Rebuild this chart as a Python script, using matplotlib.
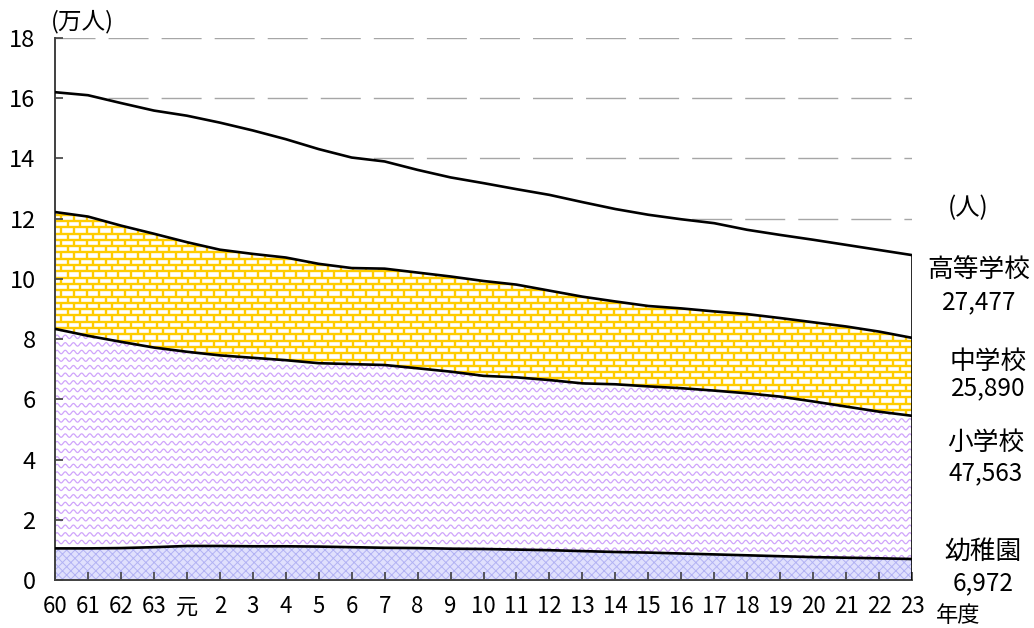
import numpy as np
import matplotlib
matplotlib.use('Agg')
import matplotlib.pyplot as plt
from matplotlib.patches import Polygon
from matplotlib.collections import LineCollection

plt.rcParams['font.family'] = ['Noto Sans CJK JP', 'DejaVu Sans']
plt.rcParams['hatch.linewidth'] = 0.7

# ---------------- data (万人) ----------------
years = ['60', '61', '62', '63', '元'] + [str(i) for i in range(2, 24)]
kindergarten = [1.05, 1.05, 1.06, 1.09, 1.13, 1.13, 1.12, 1.12, 1.11, 1.09, 1.07, 1.06, 1.04, 1.03,
                1.01, 0.99, 0.96, 0.93, 0.91, 0.88, 0.85, 0.82, 0.79, 0.76, 0.74, 0.72, 0.6972]
elementary = [7.29, 7.06, 6.85, 6.63, 6.45, 6.33, 6.26, 6.18, 6.09, 6.08, 6.07, 5.97, 5.88, 5.75,
              5.72, 5.65, 5.57, 5.57, 5.52, 5.49, 5.44, 5.38, 5.30, 5.17, 5.02, 4.87, 4.7563]
junior_high = [3.88, 3.96, 3.86, 3.78, 3.64, 3.51, 3.45, 3.41, 3.30, 3.19, 3.20, 3.18, 3.16, 3.15,
               3.08, 2.97, 2.88, 2.75, 2.67, 2.65, 2.63, 2.63, 2.61, 2.63, 2.66, 2.66, 2.5890]
high_school = [3.98, 4.03, 4.07, 4.09, 4.20, 4.22, 4.10, 3.93, 3.81, 3.67, 3.56, 3.41, 3.29, 3.25,
               3.17, 3.18, 3.14, 3.07, 3.03, 2.96, 2.93, 2.80, 2.76, 2.74, 2.71, 2.71, 2.7477]
series_names = ['幼稚園', '小学校', '中学校', '高等学校']
latest_counts = ['6,972', '47,563', '25,890', '27,477']
y_ticks = list(range(0, 19, 2))

# ---------------- layout ----------------
W, H = 1034, 628
L, R, B, T = 55, 912, 580, 38
fig = plt.figure(figsize=(W / 100, H / 100), dpi=100)
ax = fig.add_axes([L / W, 1 - B / H, (R - L) / W, (B - T) / H])

x = np.arange(len(years))
ax.set_xlim(0, len(years) - 1)
ax.set_ylim(0, 18)
sx = (len(years) - 1) / (R - L)   # data units per pixel (x)
sy = 18 / (B - T)                 # data units per pixel (y)

layers = np.array([kindergarten, elementary, junior_high, high_school])
cum = np.cumsum(layers, axis=0)
lower = np.vstack([np.zeros(len(x)), cum[:-1]])


def region(i, **kw):
    verts = np.column_stack([np.concatenate([x, x[::-1]]),
                             np.concatenate([cum[i], lower[i][::-1]])])
    p = Polygon(verts, closed=True, **kw)
    ax.add_patch(p)
    return p


# dashed gridlines (behind fills)
for yv in y_ticks[1:]:
    ax.axhline(yv, color='#a6a6a6', lw=1.0, ls=(0, (28.8, 9.4)), zorder=0.5)

# kindergarten: fine cross-hatch
region(0, facecolor='#e0e0fd', edgecolor='#b2b2f4', hatch='xxxx', linewidth=0, zorder=1)

# elementary: purple waves
p1 = region(1, facecolor='white', edgecolor='none', zorder=1)
xs = np.linspace(0, len(years) - 1, 4000)
row_h = 7.6 * sy
rows = np.arange(-2, int(18 / row_h) + 3)
segs = [np.column_stack([xs, r * row_h + 1.7 * sy * np.sin(2 * np.pi * xs / (8.2 * sx))]) for r in rows]
lc = LineCollection(segs, colors='#cfa4fb', linewidths=0.9, zorder=1.2)
lc.set_clip_path(p1)
ax.add_collection(lc)

# junior high: yellow bricks
p2 = region(2, facecolor='white', edgecolor='none', zorder=1)
bh = 6.3 * sy
bw = 12.7 * sx
brick_segs = []
nrows = int(18 / bh) + 2
ncols = int((len(years) - 1) / bw) + 3
for k in range(nrows):
    y0 = k * bh
    brick_segs.append([(0, y0), (len(years) - 1, y0)])
    off = (k % 2) * bw / 2
    for j in range(-1, ncols):
        xv = j * bw + off
        brick_segs.append([(xv, y0), (xv, y0 + bh)])
bc = LineCollection(brick_segs, colors='#ffcc00', linewidths=1.7, zorder=1.2)
bc.set_clip_path(p2)
ax.add_collection(bc)

# high school: white
region(3, facecolor='white', edgecolor='none', zorder=1)

# outlines
for i in range(len(layers)):
    ax.plot(x, cum[i], color='black', lw=1.9, zorder=3, solid_joinstyle='round')
ax.plot([x[-1], x[-1]], [0, cum[-1][-1]], color='black', lw=1.9, zorder=3)

# axes styling
for s in ['top', 'right']:
    ax.spines[s].set_visible(False)
for s in ['left', 'bottom']:
    ax.spines[s].set_color('#404040')
    ax.spines[s].set_linewidth(1.4)
ax.set_xticks(x)
ax.set_xticklabels(years)
ax.set_yticks(y_ticks)
ax.tick_params(axis='both', direction='in', length=6, width=1.2, color='#404040')
ax.tick_params(axis='y', pad=14, labelsize=17)
ax.tick_params(axis='x', pad=11, labelsize=16)


def ftext(px, py, s, size):
    fig.text(px / W, 1 - py / H, s, ha='center', va='center', fontsize=size)


ftext(82, 22, '(万人)', 17)
ftext(968, 208, '(人)', 17.5)
ftext(958, 616, '年度', 16)
label_pos = [(983, 552, 583), (986, 443, 473), (988, 362, 388), (979, 271, 302)]
for name, cnt, (px, py1, py2) in zip(series_names, latest_counts, label_pos):
    ftext(px, py1, name, 18.5)
    ftext(px, py2, cnt, 17.5)

fig.savefig('out.png', dpi=100)
